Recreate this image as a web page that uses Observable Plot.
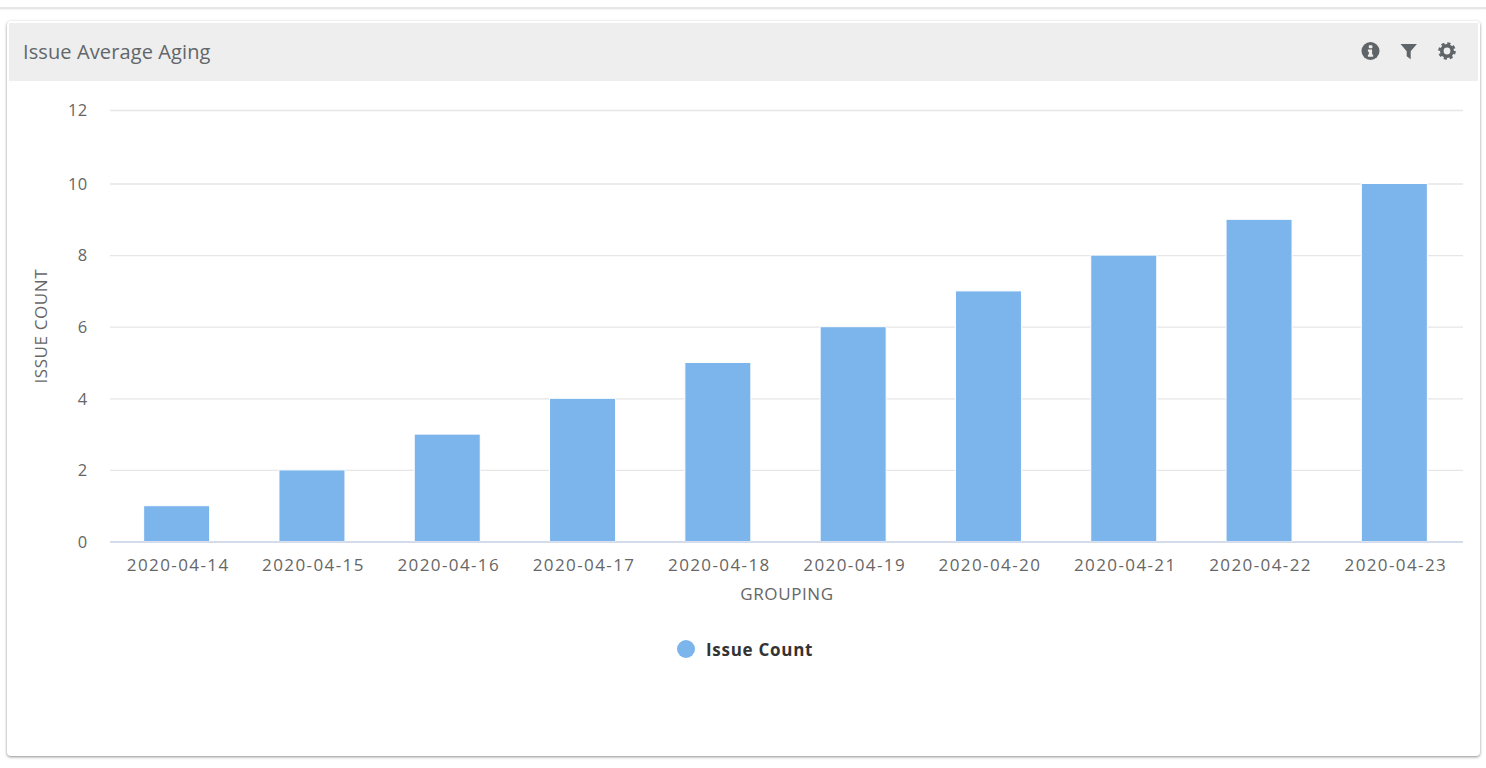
<!DOCTYPE html>
<html>
<head>
<meta charset="utf-8">
<script src="https://cdn.jsdelivr.net/npm/d3@7"></script>
<script src="https://cdn.jsdelivr.net/npm/@observablehq/plot@0.6"></script>
<style>
html,body{margin:0;padding:0;background:#fff;width:1486px;height:768px;overflow:hidden;font-family:"Open Sans",sans-serif;}
#topline{position:absolute;left:0;top:7px;width:1486px;height:2px;background:#e4e7ea;box-shadow:0 1px 2px rgba(0,0,0,.05);}
#card{position:absolute;left:7px;top:21px;width:1473px;height:735px;background:#fff;border-radius:4px;box-shadow:0 1px 3px rgba(0,0,0,.45);}
#head{position:absolute;left:9px;top:23px;width:1469px;height:57.5px;background:#eeeeee;}
#title{position:absolute;left:23px;top:38px;font-size:20px;line-height:28px;color:#62666a;letter-spacing:.11px;}
.ic{position:absolute;top:41px;width:20px;height:20px;}
#chart{position:absolute;left:0;top:81px;}
#legend{position:absolute;left:677px;top:636px;height:26px;display:flex;align-items:center;}
#legend i{display:block;width:18px;height:18px;border-radius:50%;background:#7cb5ec;margin-right:11px;}
#legend span{font-size:17px;font-weight:700;color:#333;letter-spacing:.72px;}
[aria-label="x-axis tick label"] text{letter-spacing:1.4px;font-size:17px;}
[aria-label="y-axis tick label"] text{letter-spacing:.3px;font-size:16.5px;}
[aria-label="text"] text{letter-spacing:.6px;}
</style>
</head>
<body>
<div id="topline"></div>
<div id="card"></div>
<div id="head"></div>
<div id="title">Issue Average Aging</div>
<svg class="ic" style="left:1361px" viewBox="0 0 20 20"><circle cx="9.5" cy="10" r="9" fill="#5f6468"/><rect x="7.8" y="4.2" width="3.6" height="3" rx=".6" fill="#eee"/><path d="M6.9 8.6h4.2v5h1v2.2H6.9v-2.2h1v-2.8h-1z" fill="#eee"/></svg>
<svg class="ic" style="left:1399px" viewBox="0 0 20 20"><path d="M1.5 3h16.4l-6.2 7.2v8l-4-3v-5z" fill="#5f6468"/></svg>
<svg class="ic" style="left:1437px" viewBox="0 0 20 20"><circle cx="10" cy="10" r="5.2" fill="none" stroke="#5f6468" stroke-width="3.6"/><circle cx="10" cy="10" r="7.6" fill="none" stroke="#5f6468" stroke-width="2.4" stroke-dasharray="3.2 2.77"/></svg>
<div id="chart"></div>
<div id="legend"><i></i><span id="legendText"></span></div>
<script>
const categories = ["2020-04-14","2020-04-15","2020-04-16","2020-04-17","2020-04-18","2020-04-19","2020-04-20","2020-04-21","2020-04-22","2020-04-23"];
const issueCount = [1,2,3,4,5,6,7,8,9,10];
const yTicks = [0,2,4,6,8,10,12];
const seriesName = "Issue Count";
const xTitle = "GROUPING";
const yTitle = "ISSUE COUNT";
const rows = categories.map((c,i)=>({c,v:issueCount[i]}));

const chart = Plot.plot({
  width:1486,height:530,
  marginLeft:110,marginRight:23,marginTop:29,marginBottom:69.5,
  style:{background:"transparent",fontFamily:"'Open Sans',sans-serif",fontSize:"16px",color:"#666666",overflow:"visible"},
  x:{domain:categories,paddingInner:0.512,paddingOuter:0.256,align:0.5,round:false,range:[109,1462]},
  y:{type:"linear",domain:[0,10,12],range:[460.5,102.5,29]},
  marks:[
    Plot.gridY(yTicks,{stroke:"#e6e6e6",strokeOpacity:1,strokeWidth:1.3}),
    Plot.barY(rows,{x:"c",y:"v",fill:"#7cb5ec",stroke:"#ffffff",strokeWidth:1}),
    Plot.ruleY([0],{stroke:"#ccd6eb",strokeWidth:1.5}),
    Plot.axisY({ticks:yTicks,tickSize:0,tickPadding:23,label:null,anchor:"left",dy:0.5}),
    Plot.axisX({tickSize:0,tickPadding:17,label:null,dx:1}),
    Plot.text([xTitle],{frameAnchor:"bottom",dy:58,text:d=>d,fontSize:17,fill:"#666666"}),
    Plot.text([yTitle],{frameAnchor:"left",textAnchor:"middle",dx:-69,rotate:-90,text:d=>d,fontSize:17,fill:"#666666"})
  ]
});
document.getElementById("chart").appendChild(chart);
document.getElementById("legendText").textContent = seriesName;
</script>
</body>
</html>
